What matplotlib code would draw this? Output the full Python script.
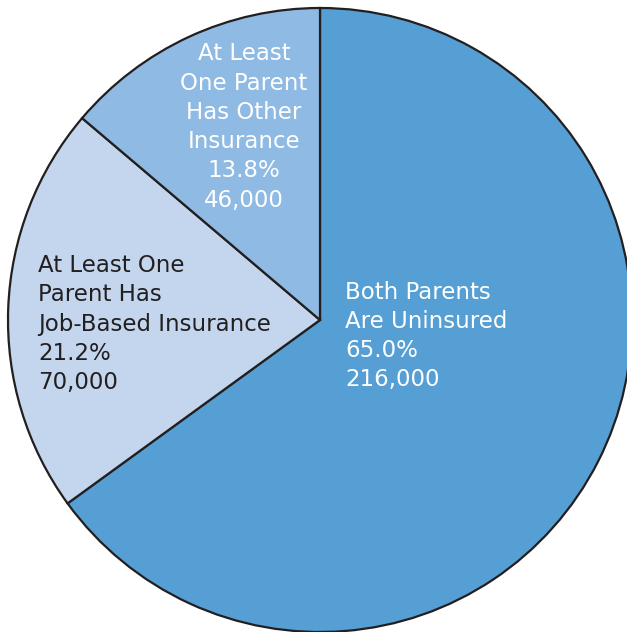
import matplotlib.pyplot as plt

# 数据
labels = ['Both Parents\nAre Uninsured',
          'At Least One\nParent Has\nJob-Based Insurance',
          'At Least\nOne Parent\nHas Other\nInsurance']
shares = [65.0, 21.2, 13.8]
counts = [216000, 70000, 46000]
colors = ['#559fd4', '#c3d6ee', '#8ebae3']
text_colors = ['white', '#231f20', 'white']

plt.rcParams['font.family'] = ['DejaVu Sans']

fig = plt.figure(figsize=(6.27, 6.32), dpi=100)
ax = fig.add_axes([0, 0, 1, 1])

ax.pie(shares, colors=colors, startangle=90, counterclock=False,
       center=(320, 312), radius=312, frame=True,
       wedgeprops=dict(edgecolor='#231f20', linewidth=1.6))
ax.set_xlim(0, 627)
ax.set_ylim(0, 632)
ax.set_aspect('equal')
ax.axis('off')

# 标签位置
pos = [(345, 336, 'left'), (38, 324, 'left'), (244, 127, 'center')]
for lab, s, c, tc, (x, y, ha) in zip(labels, shares, counts, text_colors, pos):
    txt = '%s\n%.1f%%\n%s' % (lab, s, format(c, ','))
    ax.text(x, 632 - y, txt, ha=ha, va='center', ma=ha, color=tc,
            fontsize=16.5, linespacing=1.35)

plt.savefig('out.png', dpi=100)
